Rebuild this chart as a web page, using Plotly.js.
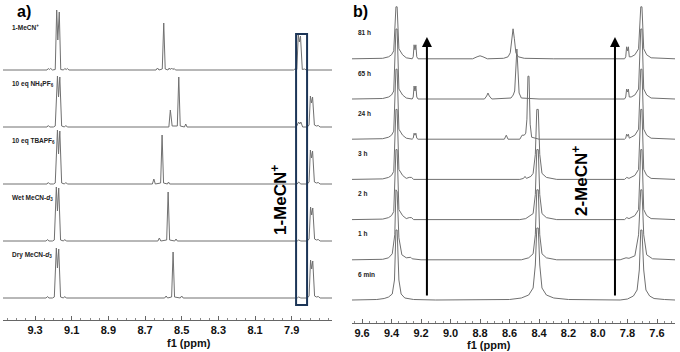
<!DOCTYPE html>
<html>
<head>
<meta charset="utf-8">
<script src="https://cdn.plot.ly/plotly-3.0.1.min.js"></script>
<style>
  body { margin: 0; background: #fff; }
  #myPlot { width: 680px; height: 352px; }
</style>
</head>
<body>
<div id="myPlot"></div>
<script>
// panel a) spectra, [ppm, intensity], listed top to bottom
const aMeCN = [[9.475,0],[9.235,0],[9.228,1.5],[9.222,0.5],[9.215,1.5],[9.205,0],[9.19,0.5],[9.182,60],[9.176,30],[9.168,58],[9.16,0.5],
  [9.145,0],[9.138,1.5],[9.13,0.5],[9.124,1.5],[9.115,0],[8.64,0],[8.632,2],[8.624,0],[8.606,1],[8.598,47],[8.59,1],
  [8.575,0],[8.568,2],[8.562,0.5],[8.555,2],[8.548,0.5],[8.541,1.5],[8.534,0],[7.89,0],[7.882,1],[7.872,0.5],
  [7.864,35],[7.858,28],[7.852,34],[7.842,0.5],[7.83,1],[7.82,0],[7.68,0]];
const aNH4 = [[9.475,0],[9.235,0],[9.228,1.5],[9.22,0],[9.2,0],[9.19,1],[9.178,51],[9.172,30],[9.165,50],[9.155,1],[9.14,0],[9.132,1.5],[9.124,0],
  [8.57,0],[8.562,17],[8.552,1],[8.524,1],[8.516,50],[8.508,1],[8.485,0],[8.478,3],[8.471,0],
  [7.875,0],[7.862,5],[7.856,3],[7.85,5],[7.84,0],[7.815,0],[7.805,2],[7.798,31],[7.792,24],[7.786,30],[7.776,2],
  [7.765,1],[7.755,1.5],[7.745,0],[7.68,0]];
const aTBA = [[9.475,0],[9.235,0],[9.228,1.5],[9.22,0],[9.2,0],[9.19,1],[9.178,54],[9.172,30],[9.165,53],[9.155,1],[9.14,0],[9.132,1.5],[9.124,0],
  [8.66,0],[8.652,5],[8.644,0],[8.615,1],[8.607,49],[8.599,1],[8.578,0],[8.572,2],[8.566,0],
  [7.87,0],[7.862,2],[7.85,0],[7.815,0],[7.805,2],[7.798,34],[7.792,26],[7.786,33],[7.776,2],[7.765,1],[7.755,1.5],[7.745,0],[7.68,0]];
const aWet = [[9.475,0],[9.24,0],[9.232,1.5],[9.225,0],[9.205,0],[9.195,1],[9.184,54],[9.178,30],[9.171,53],[9.161,1],[9.145,0],[9.138,1.5],[9.13,0],
  [8.63,0],[8.622,3],[8.614,0],[8.582,1],[8.574,49],[8.566,1],[8.538,0],[8.531,2],[8.524,0],
  [7.87,0],[7.862,1],[7.85,0],[7.815,0],[7.805,2],[7.797,34],[7.791,26],[7.785,33],[7.775,2],[7.765,1],[7.755,1.5],[7.745,0],[7.68,0]];
const aDry = [[9.475,0],[9.24,0],[9.232,1.5],[9.225,0],[9.205,0],[9.195,1],[9.184,50],[9.178,30],[9.171,49],[9.161,1],[9.145,0],[9.138,1.5],[9.13,0],
  [8.593,0],[8.585,2],[8.577,0],[8.555,1],[8.547,46],[8.539,1],[8.508,0],[8.5,2],[8.492,0],
  [7.87,0],[7.862,1],[7.85,0],[7.815,0],[7.805,2],[7.797,38],[7.791,29],[7.785,37],[7.775,2],[7.765,1],[7.755,1.5],[7.745,0],[7.68,0]];
const aSpectra = [aMeCN, aNH4, aTBA, aWet, aDry];
const aLabels = ['1-MeCN<sup>+</sup>', '10 eq NH<sub>4</sub>PF<sub>6</sub>', '10 eq TBAPF<sub>6</sub>',
  'Wet MeCN-<i>d</i><sub>3</sub>', 'Dry MeCN-<i>d</i><sub>3</sub>'];
const aTicks = [9.3, 9.1, 8.9, 8.7, 8.5, 8.3, 8.1, 7.9];

// panel b) spectra, top to bottom
const b81h = [[9.668,0],[9.46,0.5],[9.42,2],[9.40,4],[9.385,8],[9.37,52],[9.362,52],[9.35,10],[9.325,4],[9.3,1],[9.26,0],
  [9.253,2],[9.247,14],[9.241,9],[9.235,14],[9.229,2],[9.22,0],[8.85,0],[8.82,2],[8.80,3],[8.78,2],[8.75,0],
  [8.64,0.5],[8.61,2],[8.595,6],[8.585,20],[8.576,30],[8.567,20],[8.557,6],[8.54,2],[8.5,0.5],[8.3,0],
  [7.82,0],[7.812,2],[7.806,12],[7.8,8],[7.794,12],[7.788,2],[7.775,2],[7.75,4],[7.725,10],[7.71,52],[7.702,52],
  [7.69,10],[7.67,4],[7.64,1],[7.478,0]];
const b65h = [[9.668,0],[9.46,0.5],[9.42,2],[9.40,4],[9.385,8],[9.37,70],[9.362,70],[9.35,10],[9.325,4],[9.3,1],[9.26,0],
  [9.253,2],[9.247,13],[9.241,8],[9.235,13],[9.229,2],[9.22,0],[8.77,0],[8.755,3],[8.746,6],[8.737,3],[8.72,0],
  [8.59,1],[8.575,4],[8.565,8],[8.557,30],[8.55,50],[8.543,30],[8.535,6],[8.52,1],[8.4,0],
  [7.82,0],[7.812,2],[7.806,10],[7.8,7],[7.794,10],[7.788,2],[7.775,2],[7.75,4],[7.725,10],[7.71,70],[7.702,70],
  [7.69,10],[7.67,4],[7.64,1],[7.478,0]];
const b24h = [[9.668,0],[9.46,0.5],[9.42,2],[9.40,4],[9.385,8],[9.37,70],[9.362,70],[9.35,10],[9.325,4],[9.3,1],[9.26,0],
  [9.253,1],[9.247,6],[9.241,4],[9.235,6],[9.229,1],[9.22,0],[8.635,0],[8.622,4],[8.61,0],
  [8.53,0],[8.515,4],[8.5,4],[8.49,6],[8.482,20],[8.475,63],[8.468,63],[8.46,15],[8.45,2],[8.4,0],
  [7.82,0],[7.812,1],[7.806,5],[7.8,3],[7.794,5],[7.788,1],[7.775,2],[7.75,4],[7.725,10],[7.71,70],[7.702,70],
  [7.69,10],[7.67,4],[7.64,1],[7.478,0]];
const b3h = [[9.668,0],[9.46,0.5],[9.42,2],[9.40,4],[9.385,8],[9.37,70],[9.362,70],[9.35,10],[9.325,4],[9.3,1],[9.28,2],[9.265,2],[9.25,0],
  [8.53,0],[8.505,1],[8.495,3],[8.485,1],[8.465,2],[8.455,3],[8.44,6],[8.425,25],[8.415,70],[8.405,70],[8.395,25],[8.38,6],[8.35,2],[8.28,0],
  [7.82,0],[7.805,2],[7.79,1],[7.75,4],[7.725,10],[7.71,70],[7.702,70],[7.69,10],[7.67,4],[7.64,1],[7.478,0]];
const b2h = [[9.668,0],[9.46,0.5],[9.42,2],[9.40,4],[9.385,8],[9.37,70],[9.362,70],[9.35,10],[9.325,4],[9.3,1],[9.28,2],[9.265,2],[9.25,0],
  [8.53,0],[8.49,1],[8.47,3],[8.44,6],[8.425,25],[8.415,70],[8.405,70],[8.395,25],[8.38,6],[8.35,2],[8.28,0],
  [7.82,0],[7.805,2],[7.79,1],[7.75,4],[7.725,10],[7.71,70],[7.702,70],[7.69,10],[7.67,4],[7.64,1],[7.478,0]];
const b1h = [[9.668,0],[9.46,0.5],[9.42,2],[9.395,6],[9.378,25],[9.37,70],[9.362,68],[9.35,22],[9.33,5],[9.3,2],[9.27,2.5],[9.26,1],[9.2,0],
  [8.52,0],[8.47,2],[8.44,6],[8.425,25],[8.415,70],[8.405,70],[8.395,25],[8.38,6],[8.35,2],[8.28,0],
  [7.85,0],[7.81,2],[7.79,1.5],[7.75,4],[7.725,25],[7.71,70],[7.702,70],[7.69,25],[7.67,5],[7.63,1],[7.478,0]];
const b6min = [[9.668,0],[9.5,0.5],[9.45,1.5],[9.42,3],[9.395,6],[9.38,20],[9.37,70],[9.362,70],[9.35,20],[9.335,6],[9.31,2],[9.25,0.5],[9.1,0],
  [8.6,0.5],[8.52,2],[8.47,5],[8.44,12],[8.425,35],[8.415,72],[8.405,72],[8.395,35],[8.38,12],[8.35,5],[8.30,2],[8.2,0.5],[8.0,0],
  [7.85,0],[7.8,1],[7.76,4],[7.735,10],[7.72,30],[7.71,70],[7.702,70],[7.69,30],[7.675,10],[7.65,4],[7.62,1.5],[7.55,0.5],[7.478,0]];
const bSpectra = [b81h, b65h, b24h, b3h, b2h, b1h, b6min];
const bLabels = ['81 h', '65 h', '24 h', '3 h', '2 h', '1 h', '6 min'];
const bTicks = [9.6, 9.4, 9.2, 9.0, 8.8, 8.6, 8.4, 8.2, 8.0, 7.8, 7.6];

const W = 680, H = 352;
const FONT = 'Liberation Sans, Arial, sans-serif';
const lineCol = '#707070';

// vertical stacking of the spectra (bottom spectrum first)
const aBase = 22, aStep = 57;
const bBase = 23, bStep = 40.2;

const data = [];
const annotations = [];

aSpectra.forEach(function(pts, i) {
  const off = aBase + (aSpectra.length - 1 - i) * aStep;
  data.push({
    x: pts.map(p => p[0]), y: pts.map(p => p[1] + off),
    xaxis: 'x', yaxis: 'y', type: 'scatter', mode: 'lines',
    line: {color: lineCol, width: 1}, hoverinfo: 'skip'
  });
  annotations.push({
    xref: 'paper', yref: 'y', x: 10 / W, y: off + 43, xanchor: 'left', yanchor: 'middle',
    text: '<b>' + aLabels[i] + '</b>', showarrow: false, font: {family: FONT, size: 6.5, color: '#222'}
  });
});

bSpectra.forEach(function(pts, i) {
  const off = bBase + (bSpectra.length - 1 - i) * bStep;
  data.push({
    x: pts.map(p => p[0]), y: pts.map(p => p[1] + off),
    xaxis: 'x2', yaxis: 'y2', type: 'scatter', mode: 'lines',
    line: {color: lineCol, width: 1}, hoverinfo: 'skip'
  });
  annotations.push({
    xref: 'paper', yref: 'y2', x: 356 / W, y: off + 26, xanchor: 'left', yanchor: 'middle',
    text: '<b>' + bLabels[i] + '</b>', showarrow: false, font: {family: FONT, size: 6.5, color: '#222'}
  });
});

// panel letters
annotations.push({xref: 'paper', yref: 'paper', x: 15 / W, y: 1 - 12 / H, xanchor: 'left', yanchor: 'middle',
  text: '<b>a)</b>', showarrow: false, font: {family: FONT, size: 16, color: '#000'}});
annotations.push({xref: 'paper', yref: 'paper', x: 351 / W, y: 1 - 12 / H, xanchor: 'left', yanchor: 'middle',
  text: '<b>b)</b>', showarrow: false, font: {family: FONT, size: 16, color: '#000'}});

// axis titles, set tight under the tick labels as in the figure
annotations.push({xref: 'paper', yref: 'paper', x: 165 / W, y: 1 - 343 / H, yanchor: 'middle',
  text: '<b>f1 (ppm)</b>', showarrow: false, font: {family: FONT, size: 11, color: '#111'}});
annotations.push({xref: 'paper', yref: 'paper', x: 513 / W, y: 1 - 345 / H, yanchor: 'middle',
  text: '<b>f1 (ppm)</b>', showarrow: false, font: {family: FONT, size: 11, color: '#111'}});

// rotated species labels
annotations.push({xref: 'paper', yref: 'paper', x: 279 / W, y: 1 - 200 / H, textangle: -90,
  text: '<b>1-MeCN<sup>+</sup></b>', showarrow: false, font: {family: FONT, size: 17, color: '#000'}});
annotations.push({xref: 'paper', yref: 'paper', x: 593 / W, y: 1 - 181 / H, textangle: -90,
  text: '<b>2-MeCN<sup>+</sup></b>', showarrow: false, font: {family: FONT, size: 17, color: '#000'}});

// growth arrows in panel b
[9.16, 7.885].forEach(function(ppm) {
  annotations.push({xref: 'x2', yref: 'y2', axref: 'x2', ayref: 'y2', x: ppm, y: 286, ax: ppm, ay: 26,
    text: '', showarrow: true, arrowhead: 2, arrowsize: 1, arrowwidth: 2, arrowcolor: '#000'});
});

function xAxis(domain, range, ticks, anchor) {
  return {
    domain: domain, range: range, anchor: anchor,
    tickmode: 'array', tickvals: ticks, ticktext: ticks.map(v => v.toFixed(1)),
    ticks: 'inside', ticklen: 4, tickwidth: 1, tickcolor: '#666',
    minor: {tickmode: 'linear', tick0: 7.6, dtick: 0.05, ticks: 'inside', ticklen: 2, tickcolor: '#888'},
    showline: true, linecolor: '#666', linewidth: 1,
    showgrid: false, zeroline: false,
    tickfont: {family: FONT, size: 11, color: '#111', weight: 'bold'}
  };
}

const layout = {
  width: W, height: H,
  margin: {l: 0, r: 0, t: 0, b: 0},
  paper_bgcolor: '#fff', plot_bgcolor: '#fff',
  showlegend: false,
  xaxis: xAxis([3 / W, 332 / W], [9.475, 7.68], aTicks, 'y'),
  yaxis: {domain: [1 - 320 / H, 1], range: [0, 320], visible: false},
  xaxis2: xAxis([352 / W, 675 / W], [9.668, 7.478], bTicks, 'y2'),
  yaxis2: {domain: [1 - 323 / H, 1], range: [0, 323], visible: false},
  shapes: [{
    type: 'rect', xref: 'x', yref: 'y', x0: 7.876, x1: 7.816, y0: 15, y1: 286,
    line: {color: '#1c3557', width: 2}
  }],
  annotations: annotations
};

Plotly.newPlot(document.getElementById('myPlot'), data, layout, {staticPlot: true});
</script>
</body>
</html>
